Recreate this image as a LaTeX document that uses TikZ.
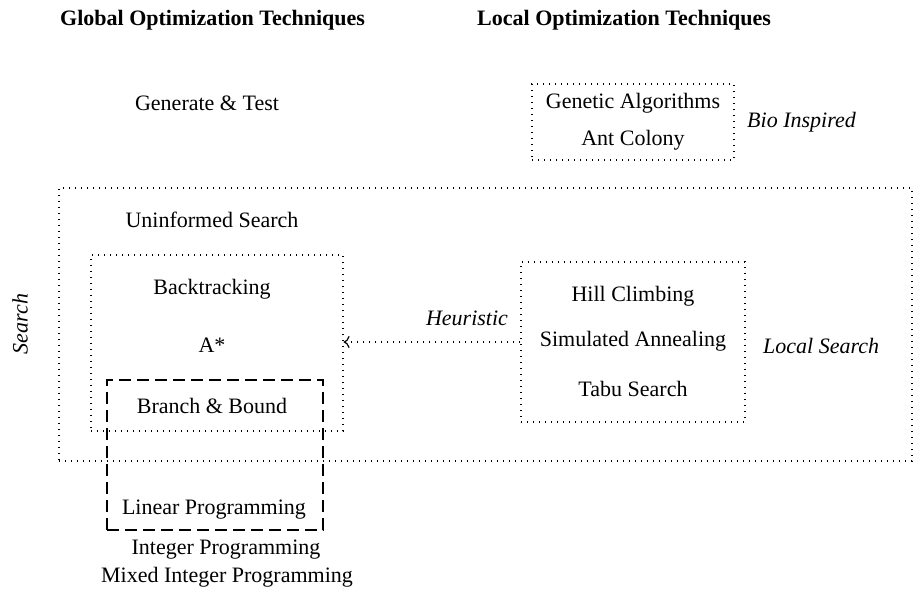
\documentclass[tikz,border=0pt]{standalone}
\usepackage{fontspec}
\setmainfont{Liberation Serif}
\usetikzlibrary{arrows.meta}
\begin{document}
\begin{tikzpicture}[x=1pt,y=-1pt,
  every node/.style={font=\fontsize{22}{26}\selectfont, inner sep=0pt},
  dotted line/.style={line width=1.2pt, dash pattern=on 1.2pt off 4.8pt},
  dotbox/.style={draw, dotted line},
  dashbox/.style={draw, line width=1.5pt, dash pattern=on 12pt off 6pt},
  title/.style={font=\fontsize{22}{26}\selectfont\bfseries},
  tag/.style={font=\fontsize{22}{26}\selectfont\itshape}]
\useasboundingbox (0,0) rectangle (914,590);

% column headings
\node[title, anchor=west] (glob) at (60,20) {Global Optimization Techniques};
\node[title, anchor=west] (loc) at (477,20) {Local Optimization Techniques};

\node (gt) at (207,103) {Generate \& Test};

% bio-inspired group
\node[dotbox, minimum width=202pt, minimum height=76pt] (bio) at (633,122) {};
\node (ga) at (633,103) {Genetic Algorithms};
\node (ac) at (633,140) {Ant Colony};
\node[tag, anchor=west] (bioi) at (747,122) {Bio Inspired};

% search region
\node[dotbox, minimum width=853pt, minimum height=273pt] (search) at (485.5,324.5) {};
\node[tag, rotate=90] (srch) at (20,324) {Search};
\node (us) at (212,220) {Uninformed Search};

% global search methods
\node[dotbox, minimum width=252pt, minimum height=176pt] (gbox) at (217,343) {};
\node (bt) at (212,289) {Backtracking};
\node (as) at (212,345) {A*};
\node (bb) at (212,406) {Branch \& Bound};

% programming methods
\node[dashbox, minimum width=216pt, minimum height=150pt] (lp) at (215,455) {};
\node (lpt) at (214,510) {Linear Programming};
\node (ip) at (226,550) {Integer Programming};
\node (mip) at (227,577) {Mixed Integer Programming};

% local search methods
\node[dotbox, minimum width=224pt, minimum height=160pt] (lbox) at (633,342) {};
\node (hc) at (633,296) {Hill Climbing};
\node (sa) at (633,341) {Simulated Annealing};
\node (ts) at (633,389) {Tabu Search};
\node[tag, anchor=west] (ls) at (763,346) {Local Search};

% heuristic link
\draw[dotted line, -{To[length=6pt,width=12pt]}] (lbox.west) -- (lbox.west -| gbox.east);
\node[tag] (heu) at (467,318) {Heuristic};
\end{tikzpicture}
\end{document}
